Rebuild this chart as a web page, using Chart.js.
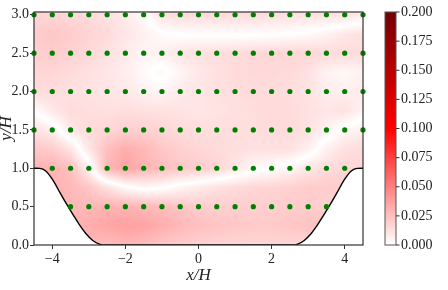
<!DOCTYPE html>
<html>
<head>
<meta charset="utf-8">
<script src="https://cdn.jsdelivr.net/npm/chart.js@4.4.0/dist/chart.umd.min.js"></script>
<style>
  html, body { margin: 0; padding: 0; background: #fff; }
</style>
</head>
<body>
<canvas id="chart" width="448" height="290"></canvas>
<script>
// grid of the error field (signed, the map shows its magnitude)
const fieldX = [-4.5, -4, -3.5, -3, -2.5, -2, -1.5, -1, -0.5, 0, 0.5, 1, 1.5, 2, 2.5, 3, 3.5, 4, 4.5];
const fieldY = [0, 0.25, 0.5, 0.75, 1, 1.25, 1.5, 1.75, 2, 2.25, 2.5, 2.75, 3];

const rowY000 = [-0.030, -0.030, -0.030, -0.028, -0.026, -0.028, -0.026, -0.022, -0.020, -0.018, -0.017, -0.016, -0.016, -0.016, -0.016, -0.016, -0.016, -0.016, -0.016];
const rowY025 = [-0.030, -0.030, -0.030, -0.032, -0.035, -0.037, -0.036, -0.032, -0.028, -0.025, -0.023, -0.022, -0.021, -0.021, -0.022, -0.024, -0.024, -0.020, -0.020];
const rowY050 = [-0.030, -0.030, -0.028, -0.028, -0.030, -0.030, -0.028, -0.026, -0.023, -0.020, -0.019, -0.019, -0.019, -0.019, -0.020, -0.020, -0.018, -0.015, -0.015];
const rowY075 = [-0.030, -0.030, -0.028, -0.022, -0.012, -0.002, 0.003, 0.001, -0.004, -0.008, -0.012, -0.014, -0.016, -0.017, -0.018, -0.020, -0.020, -0.020, -0.020];
const rowY100 = [-0.030, -0.030, -0.025, -0.006, 0.028, 0.036, 0.030, 0.026, 0.022, 0.020, 0.017, 0.010, 0.003, 0.000, -0.004, -0.010, -0.014, -0.016, -0.016];
const rowY125 = [-0.022, -0.020, -0.011, 0.010, 0.025, 0.032, 0.028, 0.022, 0.018, 0.016, 0.014, 0.013, 0.012, 0.012, 0.012, 0.006, -0.006, -0.012, -0.014];
const rowY150 = [-0.012, -0.006, 0.010, 0.014, 0.016, 0.018, 0.018, 0.016, 0.014, 0.013, 0.013, 0.013, 0.013, 0.014, 0.014, 0.012, 0.006, -0.003, -0.006];
const rowY175 = [0.001, 0.009, 0.014, 0.013, 0.012, 0.013, 0.012, 0.012, 0.011, 0.010, 0.011, 0.012, 0.013, 0.014, 0.014, 0.012, 0.010, 0.012, 0.004];
const rowY200 = [0.014, 0.014, 0.012, 0.011, 0.010, 0.009, 0.005, 0.004, 0.008, 0.010, 0.012, 0.013, 0.014, 0.014, 0.013, 0.011, 0.007, 0.006, 0.008];
const rowY225 = [0.016, 0.016, 0.014, 0.012, 0.010, 0.007, 0.002, -0.003, 0.004, 0.009, 0.012, 0.014, 0.015, 0.015, 0.014, 0.012, 0.005, 0.003, 0.005];
const rowY250 = [0.018, 0.020, 0.018, 0.015, 0.012, 0.008, 0.004, 0.006, 0.010, 0.012, 0.013, 0.014, 0.015, 0.016, 0.016, 0.016, 0.015, 0.014, 0.014];
const rowY275 = [0.020, 0.022, 0.020, 0.017, 0.014, 0.010, 0.006, 0.0016, -0.0005, -0.0010, -0.0012, -0.0012, -0.0010, -0.0008, 0.0000, 0.0015, 0.0047, 0.0094, 0.0120];
const rowY300 = [0.016, 0.016, 0.015, 0.014, 0.012, 0.008, 0.002, -0.012, -0.014, -0.014, -0.014, -0.014, -0.014, -0.013, -0.012, -0.012, -0.012, -0.012, -0.008];
const fieldRows = [rowY000, rowY025, rowY050, rowY075, rowY100, rowY125, rowY150, rowY175, rowY200, rowY225, rowY250, rowY275, rowY300];

// hill profile
const hillX = [-4.5, -4.339, -4.179, -4.0, -3.786, -3.607, -3.429, -3.25, -3.071, -2.893, -2.714, -2.571,
               2.571, 2.714, 2.893, 3.071, 3.25, 3.429, 3.607, 3.786, 4.0, 4.179, 4.339, 4.5];
const hillY = [1.0, 0.998, 0.964, 0.857, 0.679, 0.532, 0.393, 0.259, 0.143, 0.059, 0.012, 0.0,
               0.0, 0.012, 0.059, 0.143, 0.259, 0.393, 0.532, 0.679, 0.857, 0.964, 0.998, 1.0];

// probe locations
const probeX = [-4.5, -4, -3.5, -3, -2.5, -2, -1.5, -1, -0.5, 0, 0.5, 1, 1.5, 2, 2.5, 3, 3.5, 4, 4.5];
const probeRowY = [3.0, 2.5, 2.0, 1.5, 1.0, 0.5];
const probeRowMin = [-4.5, -4.5, -4.5, -4.5, -4, -3.5];
const probeRowMax = [4.5, 4.5, 4.5, 4.5, 4, 3.5];

const xTicks = [-4, -2, 0, 2, 4];
const yTicks = [0, 0.5, 1, 1.5, 2, 2.5, 3];
const cbTicks = [0, 0.025, 0.05, 0.075, 0.1, 0.125, 0.15, 0.175, 0.2];

const cmapStops = [0, 0.1, 0.2];
const cmapColors = [[255, 255, 255], [255, 0, 0], [115, 0, 0]];

function cmap(v) {
  if (v <= cmapStops[0]) return cmapColors[0];
  for (let k = 0; k < cmapStops.length - 1; k++) {
    if (v <= cmapStops[k + 1]) {
      const t = (v - cmapStops[k]) / (cmapStops[k + 1] - cmapStops[k]);
      const a = cmapColors[k], b = cmapColors[k + 1];
      return [a[0] + (b[0] - a[0]) * t, a[1] + (b[1] - a[1]) * t, a[2] + (b[2] - a[2]) * t];
    }
  }
  return cmapColors[cmapColors.length - 1];
}

function cellOf(arr, v) {
  let k = 0;
  while (k < arr.length - 2 && v > arr[k + 1]) k++;
  return k;
}

function sampleField(x, y) {
  const i = cellOf(fieldX, x), j = cellOf(fieldY, y);
  const tx = Math.min(1, Math.max(0, (x - fieldX[i]) / (fieldX[i + 1] - fieldX[i])));
  const ty = Math.min(1, Math.max(0, (y - fieldY[j]) / (fieldY[j + 1] - fieldY[j])));
  const r0 = fieldRows[j], r1 = fieldRows[j + 1];
  const a = r0[i] * (1 - tx) + r0[i + 1] * tx;
  const b = r1[i] * (1 - tx) + r1[i + 1] * tx;
  return a * (1 - ty) + b * ty;
}

const probePoints = [];
probeRowY.forEach((py, r) => {
  probeX.forEach(px => {
    if (px >= probeRowMin[r] && px <= probeRowMax[r]) probePoints.push({ x: px, y: py });
  });
});

const hillPoints = hillX.map((x, i) => ({ x: x, y: hillY[i] }));

const serif = "'Liberation Serif', 'Times New Roman', serif";

const fieldPlugin = {
  id: 'field',
  beforeDatasetsDraw(chart) {
    const { ctx, chartArea: a, scales: { x, y } } = chart;
    const w = Math.round(a.right - a.left), h = Math.round(a.bottom - a.top);
    const off = document.createElement('canvas');
    off.width = w; off.height = h;
    const octx = off.getContext('2d');
    const img = octx.createImageData(w, h);
    const xs = [];
    for (let i = 0; i < w; i++) xs.push(x.getValueForPixel(a.left + i + 0.5));
    for (let j = 0; j < h; j++) {
      const yv = y.getValueForPixel(a.top + j + 0.5);
      for (let i = 0; i < w; i++) {
        const c = cmap(Math.abs(sampleField(xs[i], yv)));
        const p = (j * w + i) * 4;
        img.data[p] = c[0]; img.data[p + 1] = c[1]; img.data[p + 2] = c[2]; img.data[p + 3] = 255;
      }
    }
    octx.putImageData(img, 0, 0);
    ctx.drawImage(off, a.left, a.top);
  },
  afterDatasetsDraw(chart) {
    const { ctx, chartArea: a } = chart;
    const cb = chart.scales.cb;
    ctx.save();
    // plot frame
    ctx.strokeStyle = '#333';
    ctx.lineWidth = 1.2;
    ctx.strokeRect(a.left, a.top, a.right - a.left, a.bottom - a.top);

    // colorbar
    const x0 = a.right + 22, bw = 11;
    const yTop = cb.getPixelForValue(cbTicks[cbTicks.length - 1]);
    const yBot = cb.getPixelForValue(cbTicks[0]);
    const grad = ctx.createLinearGradient(0, yBot, 0, yTop);
    cmapStops.forEach((s, k) => {
      const c = cmapColors[k];
      grad.addColorStop((s - cmapStops[0]) / (cmapStops[cmapStops.length - 1] - cmapStops[0]), `rgb(${c[0]},${c[1]},${c[2]})`);
    });
    ctx.fillStyle = grad;
    ctx.fillRect(x0, yTop, bw, yBot - yTop);
    ctx.strokeStyle = '#555';
    ctx.lineWidth = 1;
    ctx.strokeRect(x0, yTop, bw, yBot - yTop);

    ctx.fillStyle = '#222';
    ctx.font = '14px ' + serif;
    ctx.textAlign = 'left';
    ctx.textBaseline = 'middle';
    cbTicks.forEach(v => {
      const py = cb.getPixelForValue(v);
      ctx.beginPath();
      ctx.moveTo(x0 + bw, py);
      ctx.lineTo(x0 + bw + 3.5, py);
      ctx.strokeStyle = '#333';
      ctx.stroke();
      ctx.fillText(v.toFixed(3), x0 + bw + 5, py);
    });
    ctx.restore();
  }
};

new Chart(document.getElementById('chart'), {
  type: 'scatter',
  data: {
    datasets: [
      {
        label: 'probes',
        data: probePoints,
        backgroundColor: '#008000',
        borderWidth: 0,
        pointRadius: 2.6,
        clip: false
      },
      {
        label: 'hill',
        data: hillPoints,
        showLine: true,
        borderColor: '#000',
        borderWidth: 1.4,
        backgroundColor: '#fff',
        fill: 'origin',
        pointRadius: 0,
        cubicInterpolationMode: 'monotone'
      }
    ]
  },
  options: {
    responsive: false,
    animation: false,
    events: [],
    layout: { padding: { top: 12, right: 85, left: 0, bottom: 0 } },
    plugins: { legend: { display: false }, tooltip: { enabled: false } },
    scales: {
      x: {
        type: 'linear',
        min: -4.5,
        max: 4.5,
        afterBuildTicks: s => { s.ticks = xTicks.map(v => ({ value: v })); },
        afterFit: s => { s.height = 45; },
        grid: { drawOnChartArea: false, tickLength: 4, color: '#333' },
        border: { display: false },
        ticks: {
          color: '#222',
          padding: 2,
          maxRotation: 0,
          font: { family: serif, size: 14 },
          callback: v => (v < 0 ? '\u2212' + Math.abs(v) : String(v))
        },
        title: {
          display: true,
          text: 'x/H',
          color: '#222',
          font: { family: serif, size: 17, style: 'italic' },
          padding: { top: 0, bottom: 4 }
        }
      },
      y: {
        type: 'linear',
        min: 0,
        max: 3.036,
        afterBuildTicks: s => { s.ticks = yTicks.map(v => ({ value: v })); },
        afterFit: s => { s.width = 34; },
        grid: { drawOnChartArea: false, tickLength: 4, color: '#333' },
        border: { display: false },
        ticks: {
          color: '#222',
          padding: 1,
          font: { family: serif, size: 14 },
          callback: v => v.toFixed(1)
        },
        title: {
          display: true,
          text: 'y/H',
          color: '#222',
          font: { family: serif, size: 17, style: 'italic' },
          padding: { top: -4, bottom: 0 }
        }
      },
      cb: {
        type: 'linear',
        position: 'right',
        display: false,
        min: 0,
        max: 0.2
      }
    }
  },
  plugins: [fieldPlugin]
});
</script>
</body>
</html>
